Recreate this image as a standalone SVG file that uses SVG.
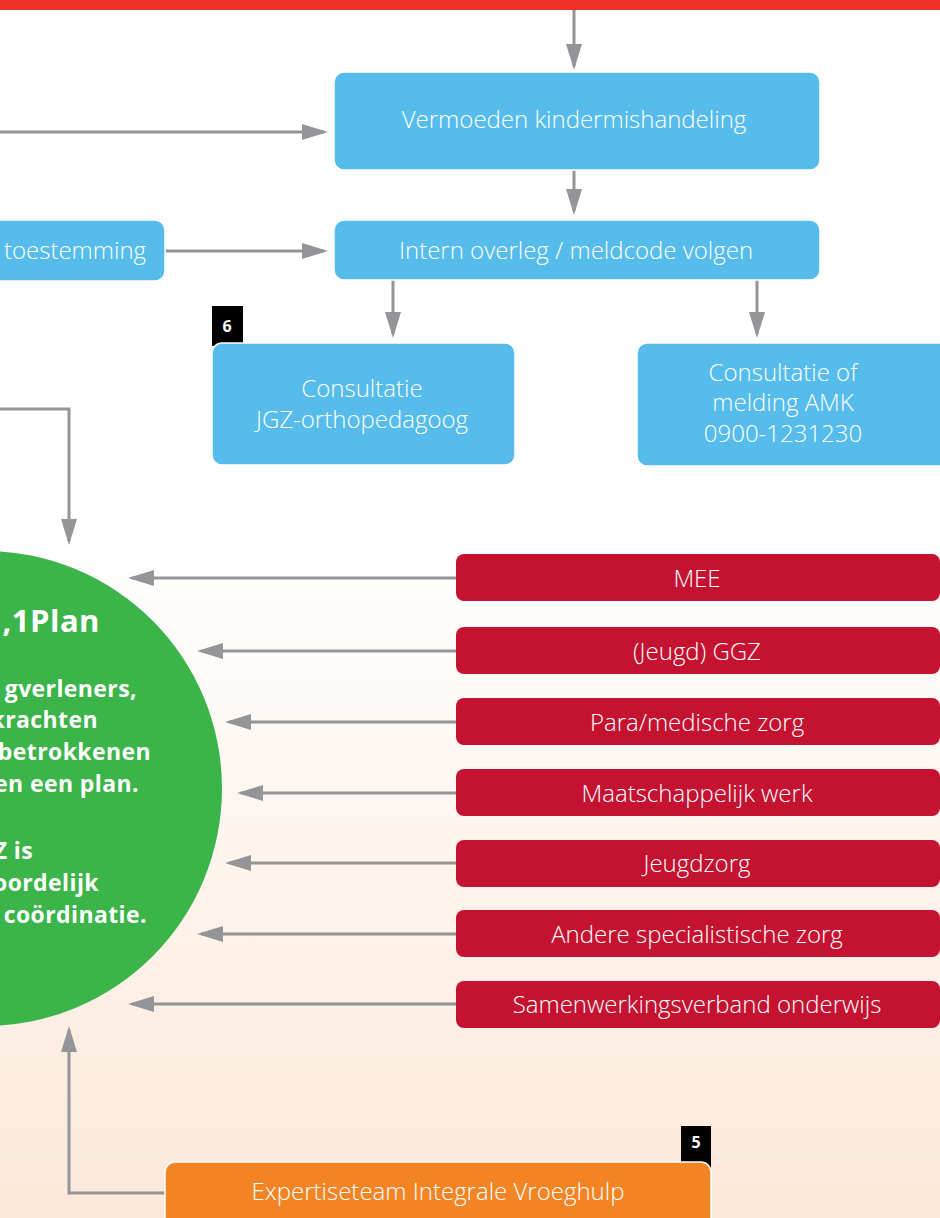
<svg xmlns="http://www.w3.org/2000/svg" width="940" height="1218" viewBox="0 0 940 1218">
<defs>
<linearGradient id="bg" x1="0" y1="0" x2="0" y2="1">
<stop offset="0" stop-color="#ffffff"/>
<stop offset="1" stop-color="#fce8d9"/>
</linearGradient>
<marker id="ah" viewBox="0 0 26 16" refX="22" refY="8" markerWidth="26" markerHeight="16" markerUnits="userSpaceOnUse" orient="auto">
<path d="M0,0 L26,8 L0,16 Z" fill="#939598"/>
</marker>
<style>
.c{fill:none;stroke:#939598;stroke-width:3;marker-end:url(#ah)}
.blue{fill:#56bceb;stroke:#ffffff;stroke-width:1.5}
.red{fill:#c41230}
.t{font-family:"Open Sans","Liberation Sans",sans-serif;font-weight:300;fill:#ffffff;font-size:24px;text-anchor:middle;dominant-baseline:central;font-variant-ligatures:none}
.g{font-family:"Open Sans","Liberation Sans",sans-serif;font-weight:700;fill:#ffffff;font-size:23px;letter-spacing:0.4px;text-anchor:end;font-variant-ligatures:none}
.b{fill:#000000}
.bt{font-family:"Open Sans","Liberation Sans",sans-serif;font-weight:700;fill:#ffffff;font-size:16px;text-anchor:middle}
</style>
</defs>
<rect x="0" y="0" width="940" height="1218" fill="#ffffff"/>
<rect x="0" y="540" width="940" height="678" fill="url(#bg)"/>
<rect x="0" y="0" width="940" height="10" fill="#ee3124"/>

<g id="connectors">
<path class="c" d="M574,10 V66"/>
<path class="c" d="M0,132 H324"/>
<path class="c" d="M574,170 V211"/>
<path class="c" d="M165,251 H324"/>
<path class="c" d="M393,280 V334"/>
<path class="c" d="M757,280 V334"/>
<path class="c" d="M0,409 H69 V541"/>
<path class="c" d="M456,578 H132"/>
<path class="c" d="M456,651 H201"/>
<path class="c" d="M456,722 H229"/>
<path class="c" d="M456,793 H241"/>
<path class="c" d="M456,863 H229"/>
<path class="c" d="M456,934 H201"/>
<path class="c" d="M456,1004 H132"/>
<path class="c" d="M166,1193 H69 V1030"/>
</g>

<g id="n-vermoeden">
<rect class="blue" x="334" y="72" width="486" height="98" rx="10"/>
<text class="t" x="574" y="118">Vermoeden kindermishandeling</text>
</g>
<g id="n-toestemming">
<rect class="blue" x="-20" y="220" width="185" height="61" rx="10"/>
<text class="t" x="75" y="249">toestemming</text>
</g>
<g id="n-intern">
<rect class="blue" x="334" y="220" width="486" height="60" rx="10"/>
<text class="t" x="576" y="249">Intern overleg / meldcode volgen</text>
</g>
<g id="n-consultatie-jgz">
<rect class="b" x="212" y="306" width="31" height="40"/>
<text class="bt" x="227" y="332">6</text>
<rect class="blue" x="212" y="343" width="303" height="122" rx="10"/>
<text class="t" x="362" y="387">Consultatie</text>
<text class="t" x="362" y="418">JGZ-orthopedagoog</text>
</g>
<g id="n-amk">
<rect class="blue" x="637" y="343" width="320" height="123" rx="10"/>
<text class="t" x="783" y="371">Consultatie of</text>
<text class="t" x="783" y="401">melding AMK</text>
<text class="t" x="783" y="432">0900-1231230</text>
</g>

<g id="n-plan">
<circle cx="-15.5" cy="788.5" r="237.5" fill="#3bb54a"/>
<text class="g" x="100" y="632" style="font-size:31px;letter-spacing:0.5px">,1Plan</text>
<text class="g" x="137" y="697">gverleners,</text>
<text class="g" x="98" y="728">krachten</text>
<text class="g" x="151" y="760">betrokkenen</text>
<text class="g" x="139" y="792">en een plan.</text>
<text class="g" x="33" y="859">Z is</text>
<text class="g" x="99" y="891">oordelijk</text>
<text class="g" x="147" y="923">coördinatie.</text>
</g>

<g id="n-mee"><rect class="red" x="456" y="554" width="484" height="47" rx="8"/><text class="t" x="697" y="577">MEE</text></g>
<g id="n-ggz"><rect class="red" x="456" y="627" width="484" height="47" rx="8"/><text class="t" x="697" y="650">(Jeugd) GGZ</text></g>
<g id="n-para"><rect class="red" x="456" y="698" width="484" height="47" rx="8"/><text class="t" x="697" y="721">Para/medische zorg</text></g>
<g id="n-maats"><rect class="red" x="456" y="769" width="484" height="47" rx="8"/><text class="t" x="697" y="792">Maatschappelijk werk</text></g>
<g id="n-jeugdzorg"><rect class="red" x="456" y="840" width="484" height="47" rx="8"/><text class="t" x="697" y="862">Jeugdzorg</text></g>
<g id="n-andere"><rect class="red" x="456" y="910" width="484" height="47" rx="8"/><text class="t" x="697" y="933">Andere specialistische zorg</text></g>
<g id="n-samen"><rect class="red" x="456" y="981" width="484" height="47" rx="8"/><text class="t" x="697" y="1003">Samenwerkingsverband onderwijs</text></g>

<g id="n-expertise">
<rect class="b" x="681" y="1126" width="30" height="42"/>
<text class="bt" x="696" y="1148">5</text>
<rect x="165" y="1162" width="546" height="70" rx="10" fill="#f38424" stroke="#ffffff" stroke-width="1.5"/>
<text class="t" x="438" y="1190">Expertiseteam Integrale Vroeghulp</text>
</g>
</svg>
